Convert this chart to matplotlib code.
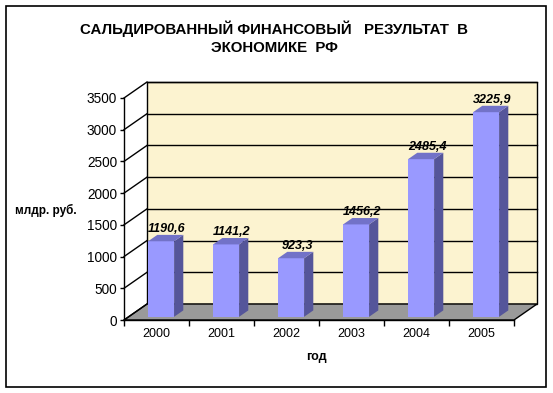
import matplotlib
matplotlib.use("Agg")
import matplotlib.pyplot as plt
from matplotlib.patches import Polygon, Rectangle

years = ["2000", "2001", "2002", "2003", "2004", "2005"]
values = [1190.6, 1141.2, 923.3, 1456.2, 2485.4, 3225.9]
labels = ["1190,6", "1141,2", "923,3", "1456,2", "2485,4", "3225,9"]
yticks = [0, 500, 1000, 1500, 2000, 2500, 3000, 3500]

plt.rcParams['font.family'] = ['Liberation Sans', 'DejaVu Sans']

W, H = 553, 393
fig = plt.figure(figsize=(W / 100, H / 100), dpi=100)
fig.patch.set_facecolor('white')

# front plot area in pixels
x0, x1 = 124, 514
yb, yt = 320, 98
ax = fig.add_axes([x0 / W, 1 - yb / H, (x1 - x0) / W, (yb - yt) / H])
ax.set_xlim(0, len(years))
ax.set_ylim(0, 3500)
ax.patch.set_visible(False)

# depth offset (px -> data units)
DXp, DYp = 23, 16
DX = DXp * len(years) / (x1 - x0)
DY = DYp * 3500 / (yb - yt)

def P(x, v, d):
    return (x + d * DX, v + d * DY)

n = len(years)
# back wall
wall = Polygon([P(0, 0, 1), P(n, 0, 1), P(n, 3500, 1), P(0, 3500, 1)], closed=True,
               facecolor='#FCF3D0', edgecolor='black', lw=1.0, clip_on=False, zorder=1)
ax.add_patch(wall)
# floor
floor = Polygon([P(0, 0, 0), P(n, 0, 0), P(n, 0, 1), P(0, 0, 1)], closed=True,
                facecolor='#9A9A9A', edgecolor='black', lw=1.0, clip_on=False, zorder=1.5)
ax.add_patch(floor)
# gridlines
for t in yticks:
    a = P(0, t, 0); b = P(0, t, 1); c = P(n, t, 1)
    ax.plot([a[0], b[0]], [a[1], b[1]], color='black', lw=1.0, clip_on=False, zorder=2)
    if t > 0:
        ax.plot([b[0], c[0]], [b[1], c[1]], color='black', lw=1.0, clip_on=False, zorder=2)

# bars
bw = 0.4
d0, d1 = 0.2, 0.6
for i, v in enumerate(values):
    xl = i + 0.5 - bw / 2
    xr = i + 0.5 + bw / 2
    front = Polygon([P(xl, 0, d0), P(xr, 0, d0), P(xr, v, d0), P(xl, v, d0)],
                    closed=True, facecolor='#9999FF', edgecolor='none', clip_on=False, zorder=3)
    side = Polygon([P(xr, 0, d0), P(xr, 0, d1), P(xr, v, d1), P(xr, v, d0)],
                   closed=True, facecolor='#55559A', edgecolor='none', clip_on=False, zorder=3)
    top = Polygon([P(xl, v, d0), P(xr, v, d0), P(xr, v, d1), P(xl, v, d1)],
                  closed=True, facecolor='#7272C8', edgecolor='none', clip_on=False, zorder=3)
    for p in (front, side, top):
        ax.add_patch(p)
    lx, ly = P(i + 0.5 - 0.05, v, d1)
    ax.annotate(labels[i], (lx, ly), xytext=(0, 0), textcoords='offset points',
                ha='center', va='bottom', fontsize=9, fontweight='bold', fontstyle='italic',
                zorder=5, annotation_clip=False)

# axes
for s in ['top', 'right']:
    ax.spines[s].set_visible(False)
ax.spines['left'].set_linewidth(1.0)
ax.spines['bottom'].set_linewidth(1.0)
ax.spines['left'].set_zorder(4)
ax.spines['bottom'].set_zorder(4)
ax.set_yticks(yticks)
ax.set_yticklabels([str(t) for t in yticks], fontsize=9.8)
ax.set_xticks(range(n + 1))
ax.set_xticklabels([])
ax.set_xticks([i + 0.5 for i in range(n)], minor=True)
ax.set_xticklabels(years, minor=True, fontsize=9)
ax.tick_params(axis='x', which='minor', length=0, pad=6)
ax.tick_params(axis='x', which='major', length=4, direction='out', width=1)
ax.tick_params(axis='y', length=3, direction='out', width=1, pad=2)

# titles
fig.text(274 / W, 1 - 29 / H, "САЛЬДИРОВАННЫЙ ФИНАНСОВЫЙ   РЕЗУЛЬТАТ  В",
         ha='center', va='center', fontsize=10.8, fontweight='bold')
fig.text(274 / W, 1 - 48 / H, "ЭКОНОМИКЕ  РФ",
         ha='center', va='center', fontsize=10.8, fontweight='bold')
fig.text(46 / W, 1 - 210 / H, "млдр. руб.", ha='center', va='center',
         fontsize=8.5, fontweight='bold')
fig.text(316 / W, 1 - 357 / H, "год", ha='center', va='center',
         fontsize=9, fontweight='bold')

# outer border
fig.add_artist(Rectangle((5.5 / W, 1 - 387 / H), 540.5 / W, 381.5 / H,
                         transform=fig.transFigure, fill=False, edgecolor='black', lw=1.2))

fig.savefig("out.png", dpi=100)
